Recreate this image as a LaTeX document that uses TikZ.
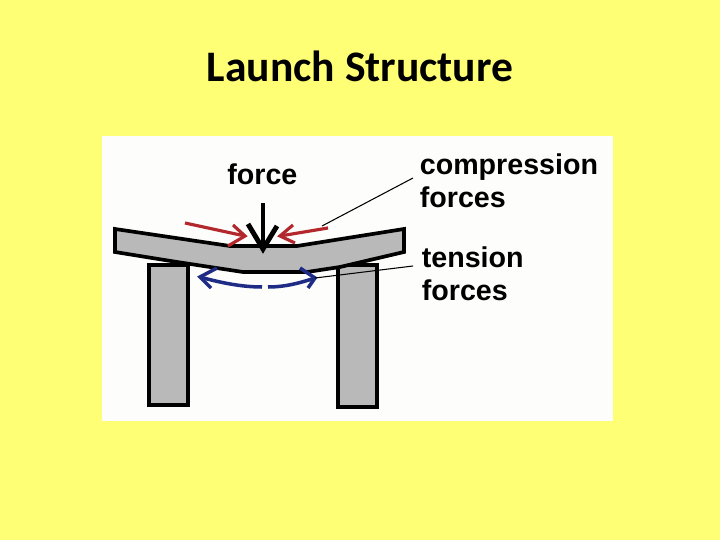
\documentclass[tikz,border=0pt]{standalone}
\usepackage{fontspec}
\setmainfont{Liberation Sans}
\newfontfamily\titlefont{Carlito}
\definecolor{slideyellow}{HTML}{FFFF75}
\definecolor{panelwhite}{HTML}{FDFDFB}
\definecolor{beamgrey}{HTML}{B9B9B9}
\definecolor{comprred}{HTML}{B3282C}
\definecolor{tensblue}{HTML}{1F2C85}
\usetikzlibrary{calc}
\tikzset{
	part/.style={draw=black,fill=beamgrey,line width=2.1pt,line join=miter},
	label/.style={anchor=base west,inner sep=0pt,font=\bfseries\fontsize{16.3}{18}\selectfont},
	leader/.style={black,line width=0.6pt},
	comprarrow/.style={comprred,line width=1.8pt},
	tensarrow/.style={tensblue,line width=2pt}
}
\begin{document}
\begin{tikzpicture}[x=0.02cm,y=-0.02cm]
	\fill[slideyellow] (0,0) rectangle (720,540);
	\fill[panelwhite] (102,136) rectangle (613,421);
	
	\node[inner sep=0pt,anchor=base,font=\titlefont\bfseries\fontsize{24.8}{28}\selectfont] (title) at (360,82) {Launch Structure};
	
	\draw[part] (149,265) rectangle (188,405);
	\draw[part] (338,265) rectangle (377,407);
	\draw[part] (115,229) -- (230,246) -- (297,246) -- (404,229) -- (404,252) -- (340,267) -- (307,272) -- (243,272) -- (177,262) -- (115,252) -- cycle;
	
	\node[label] (force) at (227,185) {force};
	\node[label] (compr) at (419.5,175) {compression};
	\node[label] (comprf) at (419.5,208) {forces};
	\node[label] (tens) at (421.5,268) {tension};
	\node[label] (tensf) at (421.5,301) {forces};
	
	\coordinate (forcetop) at (263,203);
	\coordinate (forcetip) at (263,249);
	\draw[black,line width=2.8pt] (forcetop) -- (forcetip);
	\draw[black,line width=2.8pt] (248,224) -- (forcetip) -- (277,226);
	
	\coordinate (redleft) at (185,223);
	\coordinate (redlefttip) at (245,236);
	\coordinate (redright) at (328,228);
	\coordinate (redrighttip) at (280,236);
	\draw[comprarrow] (redleft) -- (redlefttip);
	\draw[comprarrow] (233,225) -- (redlefttip) -- (228,246);
	\draw[comprarrow] (redright) -- (redrighttip);
	\draw[comprarrow] (293,225) -- (redrighttip) -- (295,243);
	
	\coordinate (blueleft) at (200,277);
	\coordinate (blueright) at (315,278);
	\draw[tensarrow] (blueleft) .. controls (225,284) and (245,287) .. (262,287);
	\draw[tensarrow] (blueright) .. controls (300,283) and (285,287) .. (268,287);
	\draw[tensarrow] (217,268) -- (blueleft) -- (211,288);
	\draw[tensarrow] (300,268) -- (blueright) -- (308,288);
	
	\coordinate (comprend) at (322,226);
	\coordinate (comprstart) at (413,178);
	\coordinate (tensstart) at (413,266);
	\draw[leader] (comprstart) -- (comprend);
	\draw[leader] (tensstart) -- (blueright);
\end{tikzpicture}
\end{document}
